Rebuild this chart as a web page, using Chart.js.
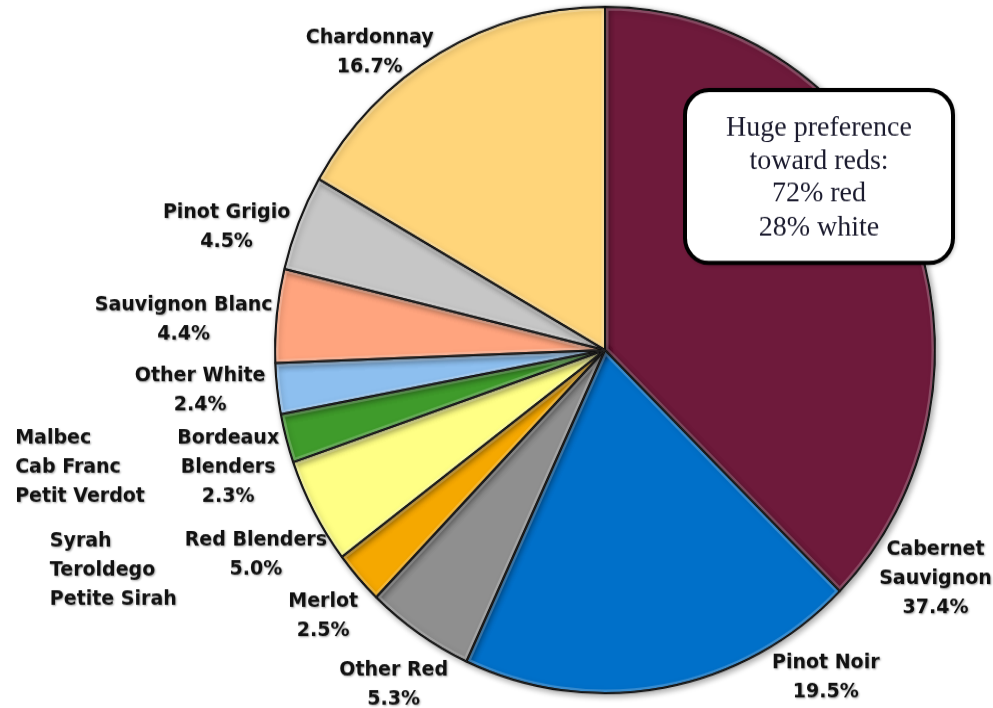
<!DOCTYPE html>
<html>
<head>
<meta charset="utf-8">
<script src="https://cdn.jsdelivr.net/npm/chart.js@4.4.1/dist/chart.umd.min.js"></script>
<style>
  html, body { margin: 0; padding: 0; background: #ffffff; overflow: hidden; }
  #wrap { position: relative; width: 993px; height: 708px; }
  #c { position: absolute; left: 0; top: 0; transform: scaleY(1.04); transform-origin: 605px 350px; }
</style>
</head>
<body>
<div id="wrap"><canvas id="c" width="993" height="708"></canvas></div>
<script>
// ---- data ----
const categories = ['Cabernet Sauvignon', 'Pinot Noir', 'Other Red', 'Merlot', 'Red Blenders',
                    'Bordeaux Blenders', 'Other White', 'Sauvignon Blanc', 'Pinot Grigio', 'Chardonnay'];
const shares = [37.4, 19.5, 5.3, 2.5, 5.0, 2.3, 2.4, 4.4, 4.5, 16.7];
const isRed = [true, true, true, true, true, true, false, false, false, false];
const labelLines = [['Cabernet', 'Sauvignon'], ['Pinot Noir'], ['Other Red'], ['Merlot'], ['Red Blenders'],
                    ['Bordeaux', 'Blenders'], ['Other White'], ['Sauvignon Blanc'], ['Pinot Grigio'], ['Chardonnay']];
const bordeauxGrapes = ['Malbec', 'Cab Franc', 'Petit Verdot'];
const redBlendGrapes = ['Syrah', 'Teroldego', 'Petite Sirah'];

// ---- style / layout ----
const sliceColors = ['#6E1A3B', '#0070C9', '#8F8F8F', '#F5A800', '#FFFF85',
                     '#3F9B2B', '#8DBFEF', '#FFA47E', '#C6C6C6', '#FFD57A'];
const SY = 1.04;   // vertical stretch of the picture
// label offsets (screen px) from the outer edge point at each slice's mid angle
const labelOffsets = [[26, 332], [162, -25], [-25, 37], [-35, 24], [-58, 29],
                      [-58, 0], [-77, -13], [-93, -10], [-72, -10], [-70, -15]];
const noteOffsets = { bordeaux: [-271, 0], redBlend: [-264, 30] };
const LINE_H = 29;
const LABEL_FONT = 'bold 19px "DejaVu Sans"';

const redTotal = shares.filter((v, i) => isRed[i]).reduce((a, b) => a + b, 0);
const whiteTotal = shares.filter((v, i) => !isRed[i]).reduce((a, b) => a + b, 0);
const boxLines = ['Huge preference', 'toward reds:', Math.round(redTotal) + '% red', Math.round(whiteTotal) + '% white'];

const shadowPlugin = {
  id: 'sliceShadow',
  beforeDatasetsDraw(chart) {
    const ctx = chart.ctx;
    ctx.save();
    ctx.shadowColor = 'rgba(0,0,0,0.35)';
    ctx.shadowBlur = 6;
    ctx.shadowOffsetX = 2;
    ctx.shadowOffsetY = 2;
  },
  afterDatasetsDraw(chart) {
    const ctx = chart.ctx;
    ctx.restore();
    // soft inner bevel on each slice
    const meta = chart.getDatasetMeta(0);
    meta.data.forEach((arc) => {
      ctx.save();
      ctx.beginPath();
      ctx.moveTo(arc.x, arc.y);
      ctx.arc(arc.x, arc.y, arc.outerRadius, arc.startAngle, arc.endAngle);
      ctx.closePath();
      ctx.clip();
      ctx.lineJoin = 'round';
      ctx.lineWidth = 7;
      ctx.strokeStyle = 'rgba(255,255,255,0.22)';
      ctx.stroke();
      ctx.lineWidth = 2;
      ctx.strokeStyle = '#111111';
      ctx.stroke();
      ctx.restore();
    });
  }
};

const labelPlugin = {
  id: 'wineLabels',
  afterDraw(chart) {
    const ctx = chart.ctx;
    const meta = chart.getDatasetMeta(0);
    const toCanvasY = (cy, ys) => cy + (ys - cy) / SY;

    function drawBlock(lines, xs, ys, cy, align) {
      ctx.textAlign = align;
      lines.forEach((t, k) => {
        ctx.fillText(t, xs, toCanvasY(cy, ys + k * LINE_H));
      });
    }

    ctx.save();
    ctx.font = LABEL_FONT;
    ctx.fillStyle = '#111111';
    ctx.textBaseline = 'middle';
    ctx.shadowColor = 'rgba(0,0,0,0.35)';
    ctx.shadowBlur = 2;
    ctx.shadowOffsetX = 1;
    ctx.shadowOffsetY = 1;

    const edges = [];
    meta.data.forEach((arc, i) => {
      const mid = (arc.startAngle + arc.endAngle) / 2;
      const ex = arc.x + arc.outerRadius * Math.cos(mid);
      const eys = arc.y + arc.outerRadius * Math.sin(mid) * SY;
      edges.push([ex, eys, arc.y]);
      const lines = labelLines[i].concat([shares[i].toFixed(1) + '%']);
      drawBlock(lines, ex + labelOffsets[i][0], eys + labelOffsets[i][1], arc.y, 'center');
    });

    const bi = categories.indexOf('Bordeaux Blenders');
    const ri = categories.indexOf('Red Blenders');
    drawBlock(bordeauxGrapes, edges[bi][0] + noteOffsets.bordeaux[0], edges[bi][1] + noteOffsets.bordeaux[1], edges[bi][2], 'left');
    drawBlock(redBlendGrapes, edges[ri][0] + noteOffsets.redBlend[0], edges[ri][1] + noteOffsets.redBlend[1], edges[ri][2], 'left');
    ctx.restore();

    // annotation box
    const cy = meta.data[0].y;
    const bx = 685, byS = 90, bw = 268, bhS = 173;
    const y0 = toCanvasY(cy, byS), y1 = toCanvasY(cy, byS + bhS);
    ctx.save();
    ctx.shadowColor = 'rgba(0,0,0,0.3)';
    ctx.shadowBlur = 4;
    ctx.shadowOffsetX = 2;
    ctx.shadowOffsetY = 2;
    ctx.beginPath();
    ctx.roundRect(bx, y0, bw, y1 - y0, 24);
    ctx.fillStyle = '#ffffff';
    ctx.fill();
    ctx.shadowColor = 'transparent';
    ctx.lineWidth = 4;
    ctx.strokeStyle = '#000000';
    ctx.stroke();
    ctx.fillStyle = '#1b1b2e';
    ctx.font = '28px "Liberation Serif"';
    ctx.textAlign = 'center';
    ctx.textBaseline = 'middle';
    const ys = [128, 161, 194, 228];
    boxLines.forEach((t, k) => ctx.fillText(t, bx + bw / 2, toCanvasY(cy, ys[k])));
    ctx.restore();
  }
};

new Chart(document.getElementById('c'), {
  type: 'pie',
  data: {
    labels: categories,
    datasets: [{
      data: shares,
      backgroundColor: sliceColors,
      borderColor: '#111111',
      borderWidth: 2,
      radius: 330
    }]
  },
  options: {
    responsive: false,
    animation: false,
    layout: { padding: { left: 275, right: 58, top: 20, bottom: 28 } },
    plugins: { legend: { display: false }, tooltip: { enabled: false } }
  },
  plugins: [shadowPlugin, labelPlugin]
});
</script>
</body>
</html>
